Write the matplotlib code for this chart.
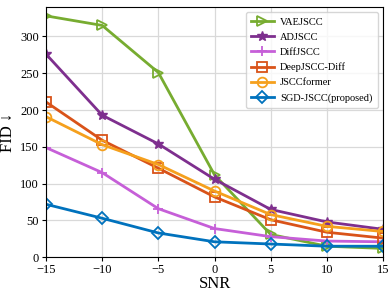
import numpy as np
import matplotlib.pyplot as plt

plt.rcParams['font.family'] = ['Liberation Serif', 'DejaVu Serif']
plt.rcParams['mathtext.fontset'] = 'stix'

snr = [-15, -10, -5, 0, 5, 10, 15]
vaejscc = [328, 315, 251, 112, 31, 15, 12]
adjscc = [276, 193, 154, 106, 65, 48, 38]
diffjscc = [149, 115, 66, 39, 28, 22, 21]
deepjscc_diff = [211, 159, 121, 82, 51, 34, 26]
jsccformer = [191, 153, 126, 90, 58, 42, 35]
sgd_jscc = [72, 53, 33, 21, 18, 15, 15]

fig, ax = plt.subplots(figsize=(3.9, 2.93), dpi=100)

ax.plot(snr, vaejscc, '->', color='#77ac30', lw=2, ms=7, mfc='none', mew=1.3, label='VAEJSCC')
ax.plot(snr, adjscc, '-*', color='#7e2f8e', lw=2, ms=7, label='ADJSCC')
ax.plot(snr, diffjscc, '-+', color='#c65fd8', lw=2, ms=7, mew=1.3, label='DiffJSCC')
ax.plot(snr, deepjscc_diff, '-s', color='#d95319', lw=2, ms=7, mfc='none', mew=1.3, label='DeepJSCC-Diff')
ax.plot(snr, jsccformer, '-o', color='#f5a01d', lw=2, ms=7, mfc='none', mew=1.3, label='JSCCformer')
ax.plot(snr, sgd_jscc, '-D', color='#0072bd', lw=2, ms=6.5, mfc='none', mew=1.3, label='SGD-JSCC(proposed)')

ax.set_xlim(-15, 15)
ax.set_ylim(0, 340)
ax.set_xticks([-15, -10, -5, 0, 5, 10, 15])
ax.set_yticks([0, 50, 100, 150, 200, 250, 300])
ax.grid(color='#d9d9d9', lw=0.9)
ax.set_axisbelow(True)
ax.tick_params(labelsize=9, pad=2, length=3)
ax.set_xlabel('SNR', fontsize=12, labelpad=0)
ax.set_ylabel('FID ↓', fontsize=12, labelpad=3)
ax.legend(loc='upper right', fontsize=7.5, handlelength=2.2, labelspacing=0.55,
          borderpad=0.5, handletextpad=0.6)

plt.subplots_adjust(left=0.118, right=0.982, top=0.976, bottom=0.122)
plt.savefig('out.png', dpi=100)
